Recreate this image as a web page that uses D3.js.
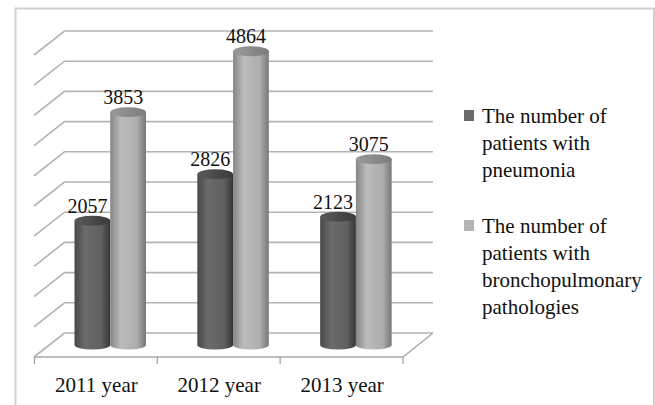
<!DOCTYPE html>
<html>
<head>
<meta charset="utf-8">
<script src="https://cdn.jsdelivr.net/npm/d3@7"></script>
<style>
html, body { margin: 0; padding: 0; background: #fff; }
svg { display: block; }
text { font-family: "Liberation Serif", serif; fill: #111; }
</style>
</head>
<body>
<svg id="chart" width="655" height="405"></svg>
<script>
const categories = ["2011 year", "2012 year", "2013 year"];
const seriesNames = ["pneumonia", "pathologies"];
const pneumonia = [2057, 2826, 2123];
const pathologies = [3853, 4864, 3075];
const gridValues = [0, 500, 1000, 1500, 2000, 2500, 3000, 3500, 4000, 4500, 5000];
const legendLines = [
  ["The number of", "patients with", "pneumonia"],
  ["The number of", "patients with", "bronchopulmonary", "pathologies"]
];
const topStops = [["#5a5a5a", "#3a3a3a"], ["#9a9a9a", "#7c7c7c"]];
const bodyStops = [
  ["#484848", "#6b6b6b", "#606060", "#363636"],
  ["#858585", "#bcbcbc", "#adadad", "#777777"]
];
const legendColors = ["#696969", "#b4b4b4"];

const svg = d3.select("#chart");

// Depth offset between the floor's front edge and the back wall
const depth = { dx: 30, dy: -24 };
const x = d3.scaleBand().domain(categories).range([34.5, 403]);
const series = d3.scaleBand().domain(seriesNames).range([0, 71.5]);
const groupInset = 40;
const y = d3.scaleLinear().domain([0, 5000]).range([345, 43]);
const wallY = v => y(v) + depth.dy + 12;

// Frame around the whole chart
svg.append("path")
  .attr("d", "M15.5,405V8.5H654V405")
  .attr("fill", "none").attr("stroke", "#cfcfcf").attr("stroke-width", 2);

// Gridlines: side wall diagonal plus back wall horizontal
const grid = svg.append("g").attr("fill", "none").attr("stroke", "#b3b3b3").attr("stroke-width", 1.6);
gridValues.forEach(v => {
  const yb = wallY(v);
  grid.append("path").attr("d", d3.line()([
    [x.range()[0] - 0.5, yb - depth.dy],
    [x.range()[0] + depth.dx, yb],
    [x.range()[1] + depth.dx, yb]
  ]));
});

// Floor edges and category ticks
const floorY = wallY(0) - depth.dy;
const floor = svg.append("g").attr("fill", "none").attr("stroke", "#a8a8a8").attr("stroke-width", 1.4);
floor.append("path").attr("d", d3.line()([
  [x.range()[0], floorY],
  [x.range()[1], floorY],
  [x.range()[1] + depth.dx, wallY(0)]
]));
[x.range()[0], ...categories.map(c => x(c) + x.bandwidth())].forEach(t => {
  floor.append("line").attr("x1", t).attr("x2", t).attr("y1", floorY).attr("y2", floorY + 7);
});

// Horizontal shading for the cylinder bodies and caps
const defs = svg.append("defs");
bodyStops.forEach((stops, i) => {
  const g = defs.append("linearGradient").attr("id", "body" + i);
  [0, 0.3, 0.75, 1].forEach((o, j) => {
    g.append("stop").attr("offset", o).attr("stop-color", stops[j]);
  });
});
topStops.forEach((stops, i) => {
  const g = defs.append("linearGradient").attr("id", "cap" + i);
  stops.forEach((c, j) => g.append("stop").attr("offset", j).attr("stop-color", c));
});

// Cylinders with their value labels
const ry = 5;
[pneumonia, pathologies].forEach((values, s) => {
  const name = seriesNames[s];
  const w = series.bandwidth();
  const g = svg.append("g");
  values.forEach((v, i) => {
    const left = x(categories[i]) + groupInset + series(name);
    const rx = w / 2;
    const cx = left + rx;
    const yTop = y(v);
    const yBase = y(0);
    g.append("path")
      .attr("fill", `url(#body${s})`)
      .attr("d", `M${left},${yTop}V${yBase}A${rx},${ry - 0.5} 0 0 0 ${left + w},${yBase}V${yTop}Z`);
    g.append("ellipse")
      .attr("cx", cx).attr("cy", yTop).attr("rx", rx).attr("ry", ry)
      .attr("fill", `url(#cap${s})`);
    svg.append("text")
      .attr("x", cx - 5).attr("y", yTop - 8)
      .attr("text-anchor", "middle").attr("font-size", 20)
      .text(v);
  });
});

// Category labels
svg.append("g").selectAll("text").data(categories).join("text")
  .attr("x", d => x(d) + x.bandwidth() / 2 + 0.5)
  .attr("y", 392)
  .attr("text-anchor", "middle").attr("font-size", 21)
  .text(d => d);

// Legend
const legendTops = [123, 233];
const lineStep = 27;
legendLines.forEach((lines, i) => {
  svg.append("rect")
    .attr("x", 464).attr("y", legendTops[i] - 13)
    .attr("width", 10).attr("height", 11)
    .attr("fill", legendColors[i]);
  lines.forEach((line, j) => {
    svg.append("text")
      .attr("x", 482).attr("y", legendTops[i] + j * lineStep)
      .attr("font-size", 21)
      .text(line);
  });
});
</script>
</body>
</html>
